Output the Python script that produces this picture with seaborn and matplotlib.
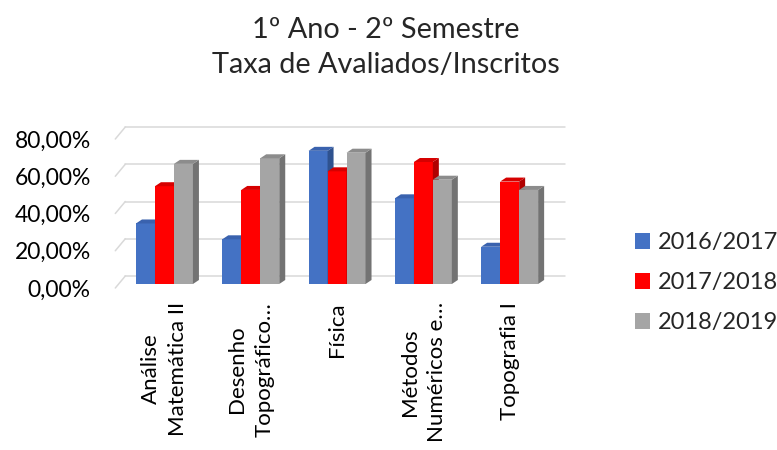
import seaborn as sns
import matplotlib.pyplot as plt
import matplotlib.transforms as mtransforms
from matplotlib.colors import to_hex
from matplotlib.patches import Polygon
from matplotlib.ticker import FuncFormatter
import pandas as pd

disciplinas = ["Análise\nMatemática II", "Desenho\nTopográfico…", "Física",
               "Métodos\nNuméricos e…", "Topografia I"]
anos = ["2016/2017", "2017/2018", "2018/2019"]
taxa_2016 = [0.325, 0.24, 0.715, 0.46, 0.20]
taxa_2017 = [0.525, 0.505, 0.605, 0.655, 0.55]
taxa_2018 = [0.645, 0.675, 0.705, 0.56, 0.505]
y_ticks = [0.0, 0.2, 0.4, 0.6, 0.8]

cores = {"2016/2017": "#4472C4", "2017/2018": "#FF0000", "2018/2019": "#A5A5A5"}
# side / top shades for the fake 3D look
lados = {"#4472C4": "#2F528F", "#FF0000": "#B00000", "#A5A5A5": "#737373"}
topos = {"#4472C4": "#3A62AE", "#FF0000": "#D60000", "#A5A5A5": "#8C8C8C"}

df = pd.DataFrame({
    "disciplina": disciplinas * 3,
    "ano": [a for a in anos for _ in disciplinas],
    "taxa": taxa_2016 + taxa_2017 + taxa_2018,
})

sns.set_style("white")
plt.rcParams["font.family"] = ["Lato", "DejaVu Sans"]

fig = plt.figure(figsize=(7.77, 4.5), dpi=100)
ax = fig.add_axes([121.3 / 777, 166 / 450, 431.5 / 777, 149 / 450])

sns.barplot(data=df, x="disciplina", y="taxa", hue="ano", palette=cores,
            width=0.66, gap=0, saturation=1, ax=ax)
ax.set_xlim(-0.5, 4.5)
ax.set_ylim(0, 0.8)

# pixel -> data units
px_x = 5 / 431.5
px_y = 0.8 / 149

# 3D sides and tops, drawn left to right so next bar covers the side
barras = sorted(ax.patches, key=lambda p: p.get_x())
for i, p in enumerate(barras):
    x0, w, h = p.get_x(), p.get_width(), p.get_height()
    cor = to_hex(p.get_facecolor()).upper()
    dx, dy = 6 * px_x, 4 * px_y
    p.set_zorder(3 + 3 * i)
    p.set_edgecolor("none")
    lado = Polygon([(x0 + w, 0), (x0 + w + dx, dy), (x0 + w + dx, h + dy), (x0 + w, h)],
                   closed=True, facecolor=lados[cor], edgecolor="none", zorder=4 + 3 * i)
    topo = Polygon([(x0, h), (x0 + dx, h + dy), (x0 + w + dx, h + dy), (x0 + w, h)],
                   closed=True, facecolor=topos[cor], edgecolor="none", zorder=4 + 3 * i)
    ax.add_patch(lado)
    ax.add_patch(topo)

# back wall gridlines + left wall diagonals
for v in y_ticks:
    yb = v + 8 * px_y
    ax.plot([-0.5 + 4 * px_x, 4.5 + 12 * px_x], [yb, yb], color="#D9D9D9",
            lw=1.1, zorder=1, clip_on=False)
    ax.plot([-0.5 - 6 * px_x, -0.5 + 4 * px_x], [v - 4 * px_y, yb], color="#D9D9D9",
            lw=1.1, zorder=1, clip_on=False)

ax.set_yticks(y_ticks)
ax.yaxis.set_major_formatter(FuncFormatter(lambda v, pos: f"{v * 100:.2f}%".replace(".", ",")))
ax.tick_params(axis="y", length=0, pad=22, labelsize=16.5, labelcolor="black")
ax.tick_params(axis="x", length=0, pad=13, labelsize=16, labelcolor="black")
for lab in ax.get_yticklabels():
    lab.set_transform(lab.get_transform() + mtransforms.ScaledTranslation(0, -0.04, fig.dpi_scale_trans))
for lab in ax.get_xticklabels():
    lab.set_rotation(90)
    lab.set_ha("center")
    lab.set_va("top")
    lab.set_multialignment("center")
    lab.set_linespacing(1.45)

ax.set_xlabel("")
ax.set_ylabel("")
sns.despine(ax=ax, left=True, bottom=True)
ax.grid(False)

handles, labels = ax.get_legend_handles_labels()
ax.get_legend().remove()
fig.legend(handles, labels, loc="center left", bbox_to_anchor=(635 / 777, 1 - 282.75 / 450),
           frameon=False, fontsize=17, handlelength=0.65, handleheight=0.65,
           handletextpad=0.3, labelspacing=0.8, borderpad=0, borderaxespad=0)

fig.text(0.4966, 1 - 47.3 / 450, "1º Ano - 2º Semestre\nTaxa de Avaliados/Inscritos",
         ha="center", va="center", fontsize=20.8, linespacing=1.42)

fig.savefig("out.png", dpi=100)
